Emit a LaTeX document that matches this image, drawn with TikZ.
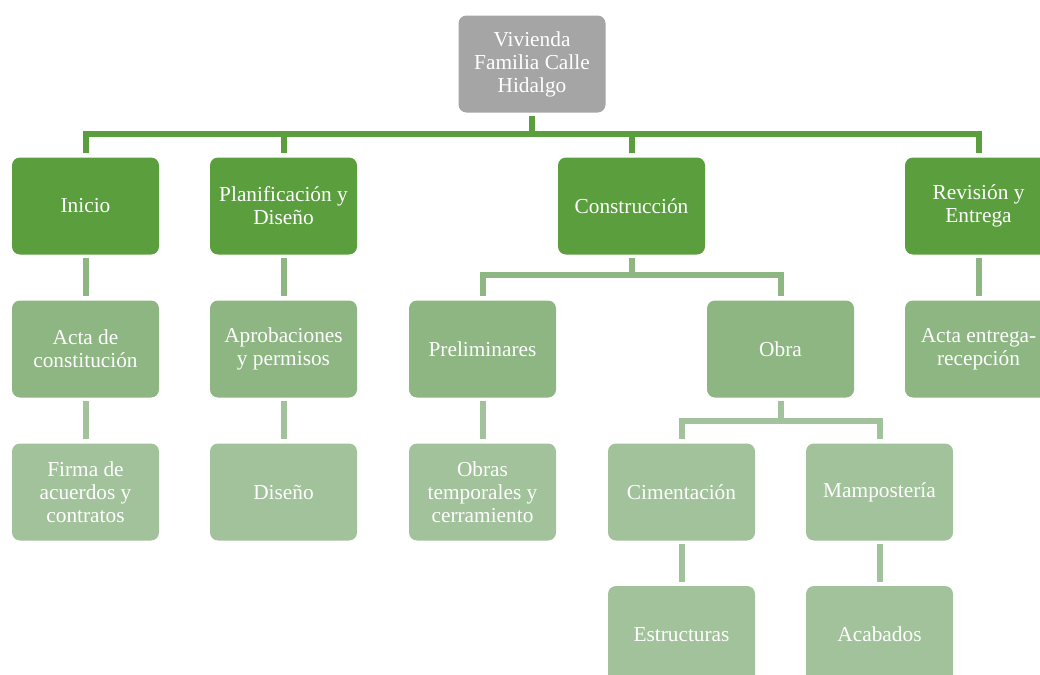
\documentclass[tikz,border=0pt]{standalone}
\usepackage{fontspec}
\setmainfont{Liberation Serif}
\usepackage{xcolor}
\usetikzlibrary{positioning}
\definecolor{wbsGray}{HTML}{A5A5A5}
\definecolor{wbsDark}{HTML}{5A9E3E}
\definecolor{wbsMid}{HTML}{8DB682}
\definecolor{wbsLight}{HTML}{A1C29A}

\begin{document}
\begin{tikzpicture}[x=0.75pt, y=-0.75pt,
  box/.style={rectangle,rounded corners=6pt,minimum width=110.25pt,minimum height=72.75pt,
    inner sep=2pt,text=white,align=center,font=\fontsize{16}{17.25}\selectfont},
  rootbox/.style={box,fill=wbsGray},
  phase/.style={box,fill=wbsDark},
  task/.style={box,fill=wbsMid},
  subtask/.style={box,fill=wbsLight},
  link/.style={line width=4.5pt,shorten <=2.25pt,shorten >=3pt}]
\useasboundingbox (0,0) rectangle (1040,675);
\clip (0,0) rectangle (1040,675);
% --- root and phases ---
\node[rootbox] (root) at (532,64) {Vivienda\\Familia Calle\\Hidalgo};
\node[phase] (ini)  at (85.5,206)  {Inicio};
\node[phase] (plan) at (283.5,206) {Planificación y\\Diseño};
\node[phase] (cons) at (631.5,206) {Construcción};
\node[phase] (rev)  at (978.5,206) {Revisión y\\Entrega};
% --- second level ---
\node[task] (acta)    at (85.5,349)  {Acta de\\constitución};
\node[task] (aprob)   at (283.5,349) {Aprobaciones\\y permisos};
\node[task] (prel)    at (482.5,349) {Preliminares};
\node[task] (obra)    at (780.5,349) {Obra};
\node[task] (entrega) at (978.5,349) {Acta entrega-\\recepción};
% --- third and fourth level ---
\node[subtask] (firma) at (85.5,492)  {Firma de\\acuerdos y\\contratos};
\node[subtask] (dis)   at (283.5,492) {Diseño};
\node[subtask] (temp)  at (482.5,492) {Obras\\temporales y\\cerramiento};
\node[subtask] (cim)   at (681.5,492) {Cimentación};
\node[subtask] (mamp)  at (879.5,492) {Mampostería};
\node[subtask] (est)   at (681.5,634.5) {Estructuras};
\node[subtask] (acab)  at (879.5,634.5) {Acabados};
% bus lines
\coordinate (bus)  at (532,134);
\coordinate (bcons) at (631.5,275);
\coordinate (bobra) at (780.5,421);
\draw[link,wbsDark,shorten >=0pt] (root) -- (bus);
\foreach \n in {ini,plan,cons,rev}
  \draw[link,wbsDark,shorten <=0pt] (bus) -| (\n);
\draw[link,wbsMid] (ini) -- (acta);
\draw[link,wbsMid] (plan) -- (aprob);
\draw[link,wbsMid] (rev) -- (entrega);
\draw[link,wbsMid,shorten >=0pt] (cons) -- (bcons);
\draw[link,wbsMid,shorten <=0pt] (bcons) -| (prel);
\draw[link,wbsMid,shorten <=0pt] (bcons) -| (obra);
\draw[link,wbsLight] (acta) -- (firma);
\draw[link,wbsLight] (aprob) -- (dis);
\draw[link,wbsLight] (prel) -- (temp);
\draw[link,wbsLight,shorten >=0pt] (obra) -- (bobra);
\draw[link,wbsLight,shorten <=0pt] (bobra) -| (cim);
\draw[link,wbsLight,shorten <=0pt] (bobra) -| (mamp);
\draw[link,wbsLight] (cim) -- (est);
\draw[link,wbsLight] (mamp) -- (acab);
\end{tikzpicture}
\end{document}
